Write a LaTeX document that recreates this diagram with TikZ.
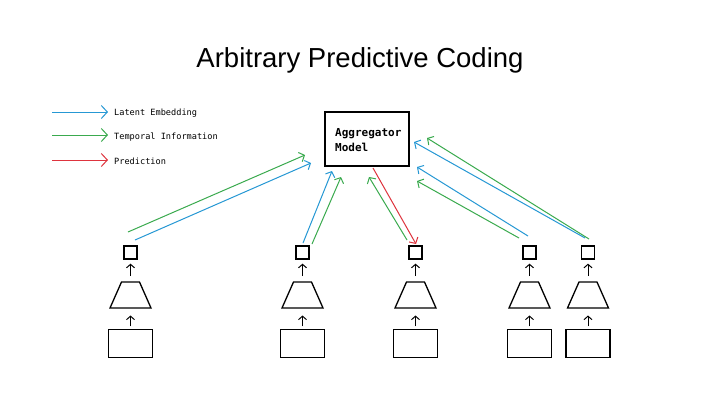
\documentclass[tikz,border=0pt]{standalone}
\usepackage{fontspec}
\setmainfont{Liberation Sans}
\newfontfamily\monofont{DejaVu Sans Mono}
\usetikzlibrary{arrows.meta}
\definecolor{cblue}{RGB}{38,152,212}
\definecolor{cgreen}{RGB}{58,170,78}
\definecolor{cred}{RGB}{222,52,62}
\tikzset{
  conn/.style={line width=1pt,-{Straight Barb[length=4.5pt,width=10pt]}},
  legarrow/.style={line width=1pt,-{Straight Barb[length=6pt,width=13pt]}},
  legtext/.style={anchor=west,inner sep=0pt,font=\monofont\fontsize{8.6}{10}\selectfont},
  sq/.style={draw,line width=1.3pt,minimum size=13pt,inner sep=0pt},
  inbox/.style={draw,line width=1.3pt,minimum width=44pt,minimum height=28pt,inner sep=0pt},
  trap/.style={draw,line width=1.3pt},
  uparrow/.style={line width=1pt,-{Straight Barb[length=3.5pt,width=8pt]}},
}
\begin{document}
\begin{tikzpicture}[x=1pt,y=-1pt]
\useasboundingbox[fill=white] (0,0) rectangle (720,405);
\node[font=\fontsize{27.5}{30}\selectfont] (title) at (360,60) {Arbitrary Predictive Coding};
% legend
\coordinate (lb1) at (52,112); \coordinate (lb2) at (108,112);
\coordinate (lg1) at (52,135); \coordinate (lg2) at (108,135);
\coordinate (lr1) at (52,160); \coordinate (lr2) at (108,160);
\draw[legarrow,cblue] (lb1) -- (lb2);
\draw[legarrow,cgreen] (lg1) -- (lg2);
\draw[legarrow,cred] (lr1) -- (lr2);
\node[legtext] (t1) at (114,113) {Latent Embedding};
\node[legtext] (t2) at (114,137) {Temporal Information};
\node[legtext] (t3) at (114,161) {Prediction};
% aggregator
\node[draw,line width=1.3pt,minimum width=84pt,minimum height=54pt,inner sep=0pt] (agg) at (367,139) {};
\node[anchor=west,align=left,inner sep=0pt,font=\monofont\bfseries\fontsize{11}{15}\selectfont] (aggt) at (335,140) {Aggregator\\Model};
% columns
\foreach \i/\x in {1/130.5,2/302.5,3/415.5,4/529.5,5/588} {
  \node[sq] (s\i) at (\x,252.5) {};
  \node[inbox] (r\i) at (\x,343.5) {};
  \coordinate (tt\i) at (\x,282);
  \coordinate (tb\i) at (\x,308);
  \draw[trap] ([xshift=-9pt]tt\i) -- ([xshift=9pt]tt\i) -- ([xshift=20.5pt]tb\i) -- ([xshift=-20.5pt]tb\i) -- cycle;
  \draw[uparrow] ([yshift=6pt]tt\i) -- ([yshift=-4pt]s\i.south);
  \draw[uparrow] ([yshift=2.5pt]r\i.north) -- ([yshift=-7.5pt]tb\i);
}
% column 1
\coordinate (g1a) at (128,232); \coordinate (g1b) at (305,155);
\coordinate (b1a) at (135,240); \coordinate (b1b) at (311,163);
\draw[conn,cgreen] (g1a) -- (g1b);
\draw[conn,cblue] (b1a) -- (b1b);
% column 2
\coordinate (b2a) at (303,243); \coordinate (b2b) at (332,171);
\coordinate (g2a) at (312,244); \coordinate (g2b) at (341,177);
\draw[conn,cblue] (b2a) -- (b2b);
\draw[conn,cgreen] (g2a) -- (g2b);
% column 3
\coordinate (r3a) at (373,168); \coordinate (r3b) at (416,244);
\coordinate (g3a) at (407,240); \coordinate (g3b) at (369,177);
\draw[conn,cred] (r3a) -- (r3b);
\draw[conn,cgreen] (g3a) -- (g3b);
% column 4
\coordinate (g4a) at (519,238); \coordinate (g4b) at (417,181);
\coordinate (b4a) at (528,236); \coordinate (b4b) at (417,167);
\draw[conn,cgreen] (g4a) -- (g4b);
\draw[conn,cblue] (b4a) -- (b4b);
% column 5
\coordinate (b5a) at (585,238); \coordinate (b5b) at (414,142);
\coordinate (g5a) at (589,239); \coordinate (g5b) at (427,138);
\draw[conn,cblue] (b5a) -- (b5b);
\draw[conn,cgreen] (g5a) -- (g5b);
\end{tikzpicture}
\end{document}
